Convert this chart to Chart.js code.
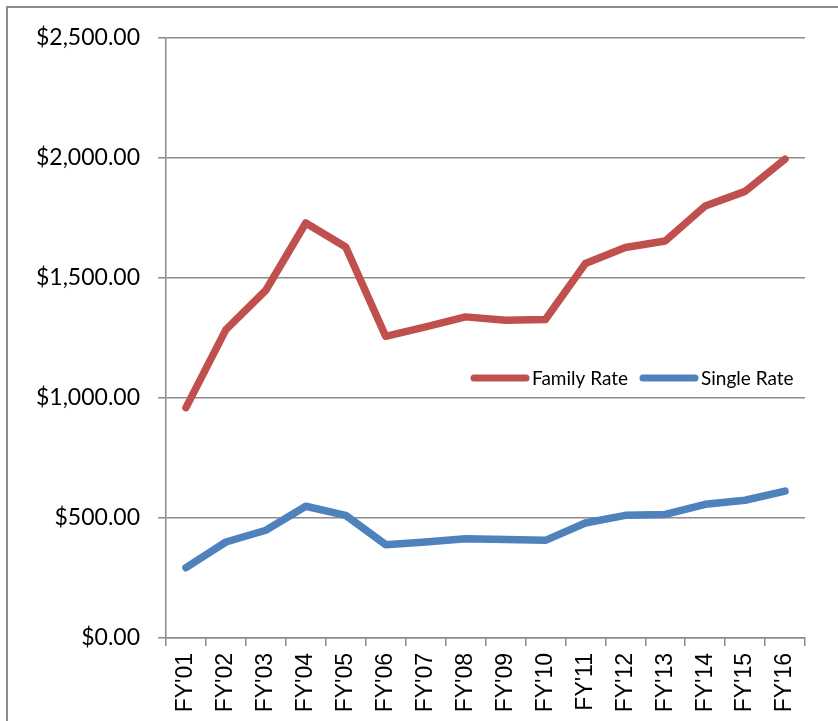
<!DOCTYPE html>
<html>
<head>
<meta charset="utf-8">
<script src="https://cdn.jsdelivr.net/npm/chart.js@4"></script>
<style>
  html, body { margin: 0; padding: 0; background: #fff; }
  #wrap { position: relative; width: 838px; height: 721px; }
</style>
</head>
<body>
<div id="wrap"><canvas id="rateChart"></canvas></div>
<script>
const categories = ["FY'01", "FY'02", "FY'03", "FY'04", "FY'05", "FY'06", "FY'07", "FY'08",
  "FY'09", "FY'10", "FY'11", "FY'12", "FY'13", "FY'14", "FY'15", "FY'16"];
const familyRate = [960, 1285, 1449, 1729, 1629, 1257, 1296, 1338,
  1324, 1327, 1560, 1627, 1654, 1800, 1861, 1995];
const singleRate = [293, 400, 449, 549, 511, 389, 400, 414,
  410, 407, 479, 511, 515, 557, 574, 612];
const seriesNames = ["Family Rate", "Single Rate"];
const yTicks = [0, 500, 1000, 1500, 2000, 2500];

const RED = "#c0504d";
const BLUE = "#4f81bd";
const GRID = "#8a8a8a";

// outer frame, only left/top edges fall inside the picture
const framePlugin = {
  id: "frame",
  beforeDraw(chart) {
    const ctx = chart.ctx;
    ctx.save();
    ctx.strokeStyle = "#8c8c8c";
    ctx.lineWidth = 2;
    ctx.strokeRect(7, 7, 1000, 1000);
    ctx.restore();
  },
};

// legend sits inside the plot area, like the Excel original
const innerLegend = {
  id: "innerLegend",
  afterDatasetsDraw(chart) {
    const ctx = chart.ctx;
    const y = 378;
    const items = [
      { x: 471, color: RED, text: seriesNames[0] },
      { x: 640, color: BLUE, text: seriesNames[1] },
    ];
    ctx.save();
    ctx.font = "19px Lato";
    ctx.textBaseline = "middle";
    items.forEach((it) => {
      ctx.strokeStyle = it.color;
      ctx.lineWidth = 7;
      ctx.lineCap = "round";
      ctx.beginPath();
      ctx.moveTo(it.x + 3, y);
      ctx.lineTo(it.x + 55, y);
      ctx.stroke();
      ctx.fillStyle = "#000";
      ctx.fillText(it.text, it.x + 61, y + 1);
    });
    ctx.restore();
  },
};

const lineStyle = {
  borderWidth: 7.5,
  pointRadius: 0,
  pointHoverRadius: 0,
  tension: 0,
  borderCapStyle: "round",
  borderJoinStyle: "round",
  fill: false,
};

new Chart(document.getElementById("rateChart"), {
  type: "line",
  data: {
    labels: categories,
    datasets: [
      { label: seriesNames[0], data: familyRate, borderColor: RED, backgroundColor: RED, ...lineStyle },
      { label: seriesNames[1], data: singleRate, borderColor: BLUE, backgroundColor: BLUE, ...lineStyle },
    ],
  },
  options: {
    responsive: true,
    maintainAspectRatio: false,
    animation: false,
    layout: { padding: { top: 38, right: 33, bottom: 0, left: 0 } },
    plugins: {
      legend: { display: false },
      tooltip: { enabled: false },
    },
    scales: {
      x: {
        offset: true,
        grid: {
          offset: true,
          drawOnChartArea: false,
          drawTicks: true,
          tickLength: 8,
          color: GRID,
          lineWidth: 1.5,
        },
        border: { color: GRID, width: 1.5 },
        ticks: {
          minRotation: 90,
          maxRotation: 90,
          padding: 7,
          color: "#000",
          font: { family: "Liberation Sans", size: 23 },
        },
        afterFit(scale) { scale.height = 83; },
      },
      y: {
        min: 0,
        max: 2500,
        afterBuildTicks(scale) { scale.ticks = yTicks.map((v) => ({ value: v })); },
        grid: { color: GRID, lineWidth: 1.5, tickLength: 8 },
        border: { color: GRID, width: 1.5 },
        ticks: {
          padding: 18,
          color: "#000",
          font: { family: "Lato", size: 23 },
          callback: (v) => "$" + Number(v).toLocaleString("en-US", { minimumFractionDigits: 2, maximumFractionDigits: 2 }),
        },
        afterFit(scale) { scale.width = 166; },
      },
    },
  },
  plugins: [framePlugin, innerLegend],
});
</script>
</body>
</html>
